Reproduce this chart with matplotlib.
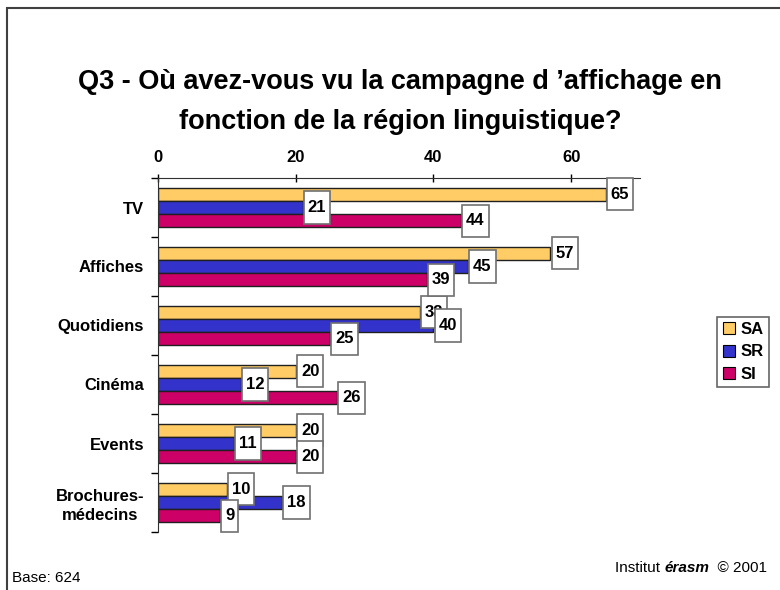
import numpy as np
import matplotlib
matplotlib.use("Agg")
import matplotlib.pyplot as plt
from matplotlib.patches import Rectangle
from matplotlib.lines import Line2D
from matplotlib.path import Path

plt.rcParams['font.family'] = ['Liberation Sans', 'DejaVu Sans']

# Data
categories = ['TV', 'Affiches', 'Quotidiens', 'Cinéma', 'Events', 'Brochures-\nmédecins']
series = ['SA', 'SR', 'SI']
sa = [65, 57, 38, 20, 20, 10]
sr = [21, 45, 40, 12, 11, 18]
si = [44, 39, 25, 26, 20, 9]
colors = ['#FFCC66', '#3333CC', '#CC0066']


def tall_box(x0, y0, width, height, mutation_size):
    # square box with more padding top/bottom than left/right
    px = 0.24 * mutation_size
    py = 0.52 * mutation_size
    x0, y0 = x0 - px, y0 - py
    x1, y1 = x0 + width + 2 * px, y0 + height + 2 * py
    return Path([(x0, y0), (x1, y0), (x1, y1), (x0, y1), (x0, y0)], closed=True)


fig = plt.figure(figsize=(7.8, 5.9), dpi=100)
ax = fig.add_axes([158 / 780, 1 - 532 / 590, (640 - 158) / 780, (532 - 178) / 590])

y = np.arange(len(categories))
h = 0.225
offsets = [-h, 0, h]

for vals, off, col in zip([sa, sr, si], offsets, colors):
    ax.barh(y + off, vals, height=h, color=col, edgecolor='#202020',
            linewidth=1, zorder=2)

# value labels in white boxes, drawn series by series
for vals, off in zip([sa, sr, si], offsets):
    for yi, v in zip(y, vals):
        ax.text(v + 0.75, yi + off, str(v), ha='left', va='center',
                fontsize=12, fontweight='bold', zorder=5,
                bbox=dict(boxstyle=tall_box, fc='white',
                          ec='#707070', lw=1.2))

ax.set_xlim(0, 70)
ax.set_ylim(len(categories) - 0.5, -0.5)
ax.xaxis.tick_top()
ax.set_xticks([0, 20, 40, 60])
ax.tick_params(axis='x', direction='inout', length=6, width=1, pad=6,
               labelsize=12)
for lab in ax.get_xticklabels():
    lab.set_fontweight('bold')

ax.set_yticks(np.arange(-0.5, len(categories), 1))
ax.set_yticklabels([])
ax.set_yticks(y, minor=True)
ax.set_yticklabels(categories, minor=True, fontsize=12, fontweight='bold',
                   linespacing=1.3, multialignment='center')
ax.tick_params(axis='y', which='major', direction='out', length=5, width=1)
ax.tick_params(axis='y', which='minor', length=0, pad=10)

for s in ['right', 'bottom']:
    ax.spines[s].set_visible(False)
ax.spines['top'].set_color('#303030')
ax.spines['left'].set_color('#303030')
ax.spines['top'].set_bounds(0, 70)

# legend
handles = [Line2D([], [], marker='s', linestyle='none', markersize=9,
                  markerfacecolor=c, markeredgecolor='black', markeredgewidth=0.8)
           for c in colors]
leg = fig.legend(handles, series, loc='center', bbox_to_anchor=(743 / 780, 1 - 352 / 590),
                 frameon=True, fancybox=False, edgecolor='#404040',
                 prop={'size': 12, 'weight': 'bold'}, handlelength=0.8,
                 handletextpad=0.3, borderpad=0.3, labelspacing=0.45,
                 borderaxespad=0)
leg.get_frame().set_linewidth(1.2)

# title
fig.text(400 / 780, 1 - 82 / 590, "Q3 - Où avez-vous vu la campagne d \u2019affichage en",
         ha='center', va='center', fontsize=19.5, fontweight='bold')
fig.text(400 / 780, 1 - 122 / 590, "fonction de la région linguistique?",
         ha='center', va='center', fontsize=19.5, fontweight='bold')

# footer
fig.text(12 / 780, 1 - 578 / 590, "Base: 624", ha='left', va='center', fontsize=11)
t1 = fig.text(615 / 780, 1 - 568 / 590, "Institut ", ha='left', va='center', fontsize=11)
t2 = plt.annotate("érasm", xy=(1, 0), xycoords=t1, ha='left', va='bottom',
                  fontsize=11, fontweight='bold', fontstyle='italic')
plt.annotate("  \u00a9 2001", xy=(1, 0), xycoords=t2, ha='left', va='bottom',
             fontsize=11)

# outer frame (partially cropped)
fig.patches.append(Rectangle((7 / 780, -0.1), 1.2, 1 - 8 / 590 + 0.1,
                             transform=fig.transFigure, fill=False,
                             ec='#404040', lw=1.5))

fig.savefig('out.png', dpi=100)
